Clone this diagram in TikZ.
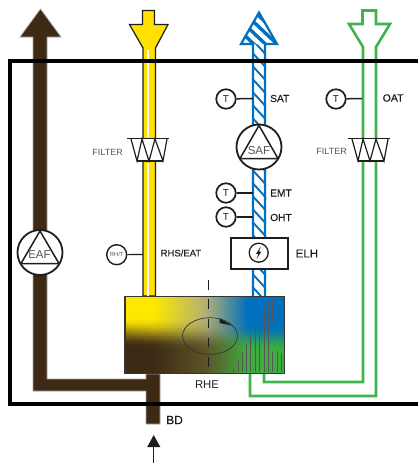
\documentclass[tikz,border=0pt]{standalone}
\usepackage{fontspec}
\setmainfont{Liberation Sans}
\newfontfamily\labf[FakeBold=0.3]{Liberation Sans}
\definecolor{ahubrown}{RGB}{61,41,20}
\definecolor{ahuyellow}{RGB}{255,224,0}
\definecolor{ahublue}{RGB}{0,112,191}
\definecolor{ahugreen}{RGB}{64,180,76}
\definecolor{ahutxt}{RGB}{30,30,30}
\definecolor{ahugray}{RGB}{85,85,85}
\tikzset{
  lab/.style={font=\labf\fontsize{10.2}{12}\selectfont,text=ahutxt,inner sep=0pt,anchor=west},
  filterlab/.style={font=\fontsize{9}{11}\selectfont,text=ahugray,inner sep=0pt,anchor=east},
  tsensor/.style={circle,draw=ahutxt,line width=1.7pt,fill=white,minimum size=19.5pt,inner sep=0pt,font=\fontsize{10}{11}\selectfont,text=ahutxt},
  fancirc/.style={circle,draw=ahutxt,line width=1.8pt,fill=white,minimum size=45pt,inner sep=0pt},
  tie/.style={ahutxt,line width=1.5pt},
  filterw/.style={ahutxt,line width=1.2pt,line join=miter},
  filterbar/.style={ahutxt,line width=1.7pt},
  brownpipe/.style={fill=ahubrown,draw=gray!70,line width=0.7pt},
  greenpipe/.style={draw=ahugreen,line width=2.6pt,line join=miter},
  fantext/.style={font=\fontsize{11.5}{13}\selectfont,text=ahugray,inner sep=0pt},
}
\newcommand{\ahufilter}[1]{%
  \begin{scope}[shift={(#1,0)}]
    \fill[white] (-18,139) -- (-12,161) -- (14,161) -- (18,139) -- cycle;
    \draw[filterw] (-18,139) -- (-12,161) -- (-7,139) -- (0,161) -- (6,139) -- (14,161) -- (18,139);
    \draw[filterw] (-12,161) -- (14,161);
    \draw[filterbar] (-22,138.5) -- (20,138.5);
  \end{scope}}
\begin{document}
\begin{tikzpicture}[x=1pt,y=-1pt]
\useasboundingbox (0,0) rectangle (418,463);
% brown exhaust
\draw[brownpipe] (33,37) -- (20,37) -- (40.5,9) -- (61,37) -- (47,37) -- (47,379) -- (146,379) -- (146,374) -- (160,374) -- (160,424) -- (146,424) -- (146,391) -- (33,391) -- cycle;
% yellow extract
\draw[fill=ahuyellow,draw=ahutxt,line width=1.2pt,line join=miter] (142.5,10.5) -- (154.5,10.5) -- (154.5,24.5) -- (168,24.5) -- (155.5,48) -- (155.5,296) -- (143,296) -- (143,48) -- (129.5,24.5) -- (142.5,24.5) -- cycle;
\draw[white,line width=2pt] (147.5,50) -- (147.5,137);
\draw[white,line width=2pt] (147.5,163) -- (147.5,296);
% blue supply
\begin{scope}
  \clip (252,296) rectangle (266,44);
  \fill[white] (252,44) rectangle (266,296);
  \foreach \yy in {35,48,...,300}{
    \draw[ahublue,line width=1.9pt] (248,\yy) -- (270,\yy+24);
  }
\end{scope}
\begin{scope}
  \clip (240,44) -- (259,11) -- (278,44) -- cycle;
  \fill[white] (238,8) rectangle (280,46);
  \foreach \yy in {-2,9,20,31}{
    \draw[ahublue,line width=3.4pt] (240,\yy) -- (278,\yy+36);
  }
\end{scope}
\draw[ahublue,line width=2.2pt,line join=miter] (253,296) -- (253,44) -- (241,44) -- (259,12.5) -- (277,44) -- (265,44) -- (265,296);
% green outdoor
\draw[greenpipe] (250,374) -- (250,396) -- (376,396) -- (376,47) -- (390,24) -- (376,24) -- (376,10.5) -- (362.5,10.5) -- (362.5,24) -- (349,24) -- (363,47) -- (363,382) -- (264,382) -- (264,374);
% frame
\draw[black,line width=3.6pt,line cap=butt] (418,61) -- (10,61) -- (10,404) -- (418,404);
% filters
\ahufilter{149}
\ahufilter{370}
\node[filterlab] (filter1) at (123,152.5) {FILTER};
\node[filterlab] (filter2) at (347,151) {FILTER};
% fans
\node[fancirc] (eaf) at (40,252.5) {};
\node[fancirc] (saf) at (259,147) {};
\draw[ahutxt,line width=1.5pt,line join=round] (40,231) -- (59,263.5) -- (21,263.5) -- cycle;
\draw[ahutxt,line width=1.5pt,line join=round] (259,125.5) -- (278,158.5) -- (240,158.5) -- cycle;
\node[fantext] (eaflab) at (39.5,255) {EAF};
\node[fantext] (saflab) at (259,150.5) {SAF};
% sensors
\coordinate (pSAT) at (253,98.5);
\coordinate (pEMT) at (253,193);
\coordinate (pOHT) at (253,217);
\coordinate (pOAT) at (362,98.5);
\coordinate (pRH) at (143,254.5);
\node[tsensor] (tsat) at (226,99) {T};
\node[tsensor] (temt) at (226,193) {T};
\node[tsensor] (toht) at (226,217) {T};
\node[tsensor] (toat) at (336,99) {T};
\node[tsensor,minimum size=20pt,line width=1.4pt,font=\fontsize{5.8}{6}\selectfont,text=ahugray] (trh) at (116.7,254.7) {RH/T};
\draw[tie] (tsat) -- (pSAT);
\draw[tie] (temt) -- (pEMT);
\draw[tie] (toht) -- (pOHT);
\draw[tie] (toat) -- (pOAT);
\draw[tie,line width=1.2pt] (trh) -- (pRH);
\node[lab] (sat) at (270,98.5) {SAT};
\node[lab] (emt) at (270,193) {EMT};
\node[lab] (oht) at (270,217.5) {OHT};
\node[lab,font=\labf\fontsize{10.5}{12}\selectfont] (oat) at (382.5,98) {OAT};
\node[lab,font=\labf\fontsize{9.5}{11}\selectfont] (rhs) at (160.5,253) {RHS/EAT};
% heater
\node[draw=ahutxt,line width=1.4pt,fill=white,minimum width=57pt,minimum height=31pt,inner sep=0pt] (elhbox) at (259.5,253.5) {};
\node[circle,draw=ahutxt,line width=1.3pt,minimum size=19pt,inner sep=0pt] (elhc) at (258.7,252.7) {};
\fill[ahutxt] (260.8,246.5) -- (256,253.8) -- (258.4,253.8) -- (256.6,259) -- (261.4,251.6) -- (259,251.6) -- cycle;
\node[lab,font=\labf\fontsize{11.5}{13}\selectfont] (elh) at (295.5,253.5) {ELH};
% heat exchanger: bilinear colour field
\foreach \yy in {296,298,...,372}{
  \pgfmathsetmacro{\tl}{min(1,max(0,(\yy-316)/30))}
  \pgfmathsetmacro{\tr}{min(1,max(0,(\yy-326)/24))}
  \pgfmathsetmacro{\tl}{\tl*\tl*(3-2*\tl)}
  \pgfmathsetmacro{\tr}{\tr*\tr*(3-2*\tr)}
  \foreach \xx in {125,127,...,283}{
    \pgfmathsetmacro{\fa}{min(1,max(0,(\xx-152)/53))}
    \pgfmathsetmacro{\fb}{min(1,max(0,(\xx-205)/42))}
    \pgfmathsetmacro{\wa}{1-\fa}
    \pgfmathsetmacro{\wc}{\fb}
    \pgfmathsetmacro{\wb}{1-\wa-\wc}
    \pgfmathsetmacro{\s}{(\xx-125)/160}
    \pgfmathsetmacro{\t}{\tl*(1-\s)+\tr*\s}
    \pgfmathsetmacro{\rr}{((1-\t)*(\wa*255+\wb*178+\wc*0)+\t*(\wa*61+\wb*92+\wc*62))/255}
    \pgfmathsetmacro{\gg}{((1-\t)*(\wa*232+\wb*176+\wc*112)+\t*(\wa*41+\wb*84+\wc*172))/255}
    \pgfmathsetmacro{\bb}{((1-\t)*(\wa*0+\wb*118+\wc*190)+\t*(\wa*20+\wb*38+\wc*62))/255}
    \definecolor{cellc}{rgb}{\rr,\gg,\bb}
    \fill[cellc] (\xx,\yy) rectangle ({min(\xx+2.6,284.5)},{min(\yy+2.6,374)});
  }
}
\foreach \xx/\ya/\yb in {233.3/369/372,238/361/372,242.3/352.5/372,246.7/343.5/372,250.7/335/372,255/326.5/372,259.3/318.5/372,264/310/372,268.3/301.5/372}{
  \draw[ahugray,line width=0.6pt] (\xx,\ya) -- (\xx,\yb);
}
\foreach \xx/\ya/\yb in {272.7/298.5/321.5,272.7/352/372,277.3/298.5/321.5,277.3/351/372,281.7/298.5/321.5,281.7/352.5/372}{
  \draw[ahugray,line width=0.6pt] (\xx,\ya) -- (\xx,\yb);
}
\draw[ahutxt!90,line width=1.3pt] (125,296.7) rectangle (284.5,373.8);
% rotor
\coordinate (dtop) at (208,280);
\coordinate (dbot) at (208,367);
\draw[ahutxt,line width=1pt,dash pattern=on 9.5pt off 9.8pt] (dtop) -- (dbot);
\draw[ahutxt!90,line width=0.7pt] (210,336) ellipse [x radius=27.5,y radius=18.3];
\fill[ahutxt] (219.5,318.2) -- (232,325.5) -- (219.5,323) -- cycle;
\node[font=\fontsize{11.3}{13}\selectfont,text=ahutxt,inner sep=0pt] (rhe) at (207,385) {RHE};
% drain
\node[lab,font=\labf\fontsize{12}{14}\selectfont] (bd) at (166,420) {BD};
\coordinate (drainend) at (153.7,463);
\coordinate (draintip) at (153.7,435);
\draw[ahutxt,line width=0.9pt] (drainend) -- (153.7,446);
\fill[ahutxt] (draintip) -- (160.3,447) -- (147.2,447) -- cycle;
\end{tikzpicture}
\end{document}
